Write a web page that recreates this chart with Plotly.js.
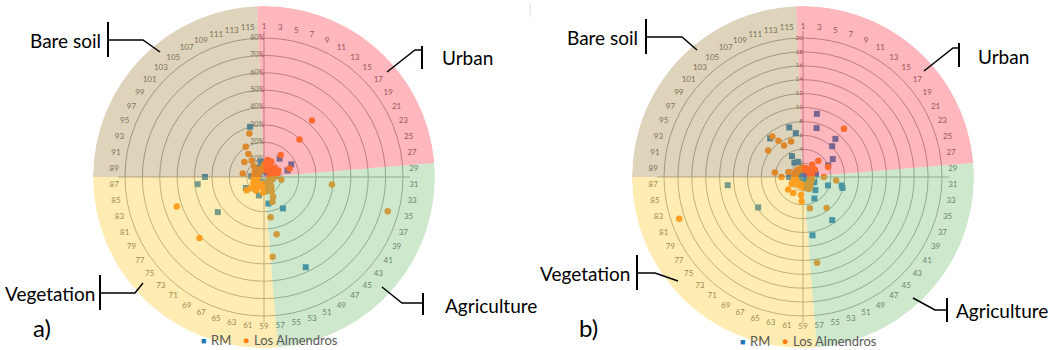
<!DOCTYPE html>
<html>
<head>
<meta charset="utf-8">
<script src="https://cdn.plot.ly/plotly-3.0.1.min.js"></script>
<style>
html,body{margin:0;padding:0;background:#ffffff;}
#chart{width:1052px;height:350px;}
</style>
</head>
<body>
<div id="chart"></div>
<script>
// ---------------- DATA ----------------
const N_CAT = 116;
const CATEGORIES = Array.from({length: N_CAT}, (_, i) => i + 1);

const ANGULAR_LABELS = ['1','3','5','7','9','11','13','15','17','19','21','23','25','27','29',
  '31','33','35','37','39','41','43','45','47','49','51','53','55','57','59','61','63','65','67',
  '69','71','73','75','77','79','81','83','85','87','89','91','93','95','97','99','101','103',
  '105','107','109','111','113','115'];

const RADIAL_TICKS_A = [10, 20, 30, 40, 50, 60, 70, 80];
const RADIAL_TEXT_A = ['10%','20%','30%','40%','50%','60%','70%','80%'];
const RADIAL_TICKS_B = [2, 4, 6, 8, 10, 12, 14, 16, 18, 20];
const RADIAL_TEXT_B = ['2','4','6','8','10','12','14','16','18','20'];

const SECTOR_NAMES = ['Urban', 'Agriculture', 'Vegetation', 'Bare soil'];
const SECTOR_FROM = [0.25, 28.5, 57.5, 88];     // category boundaries
const SECTOR_TO   = [28.5, 57.5, 88, 116.25];

const SERIES_NAMES = ['RM', 'Los Almendros'];

// chart a) values in %, one per category (null = no mark)
const RM_A = [
  null, null, 4.0, null, null, null, null, 5.5, null, null,
  3.0, null, null, 13.9, null, null, 6.0, null, null, 4.5,
  null, 17.3, null, null, 14.0, null, 6.0, 7.0, null, 3.0,
  null, null, 5.0, null, null, null, null, 3.5, null, null,
  null, 4.0, null, null, null, null, null, 5.6, 21.1, null,
  57.2, null, 6.5, null, null, 15.5, null, null, null, 4.0,
  null, null, null, 11.0, 5.8, null, null, 3.0, null, null,
  null, null, 9.1, null, null, 33.4, null, 12.2, null, null,
  null, 4.5, null, null, null, 38.4, null, 34.0, 7.3, null,
  null, null, null, null, 3.0, null, null, null, null, 4.0,
  null, null, null, 5.3, null, null, null, 6.0, null, null,
  null, 30.0, 9.1, null, null, 3.5
];
const LA_A = [
  6.9, 7.5, 5.0, 8.8, 10.0, 6.5, 4.0, 5.5, 9.8, 7.5,
  4.5, 6.5, 15.9, 42.6, 29.7, 6.0, 8.0, 4.5, 6.5, 7.0,
  5.0, 9.0, 6.0, 15.5, 8.0, 5.0, 7.0, 3.5, 4.0, 6.0,
  3.5, 39.3, 10.1, 5.0, 73.9, 4.5, null, 3.0, null, 4.0,
  null, 3.5, null, 5.0, null, 4.0, 7.0, 6.0, null, 9.5,
  12.5, null, 15.1, 8.0, 33.8, 23.5, 46.1, 5.0, null, 9.0,
  null, 5.5, null, 4.0, null, 6.0, null, null, 9.0, null,
  5.0, null, 6.4, 51.1, 9.8, 12.5, null, 7.0, null, 5.0,
  null, 53.0, null, 6.0, null, 4.0, null, 4.0, null, 6.0,
  12.4, null, 5.0, null, 3.5, null, 6.0, null, null, 14.2,
  null, null, 8.3, null, 11.7, 16.0, 20.4, null, 5.0, null,
  26.4, null, 4.0, null, 5.5, null
];

// chart b) values, one per category
const RM_B = [
  0.5, null, null, null, 9.3, 7.3, null, null, null, 0.4,
  null, null, null, 7.2, 6.1, null, null, null, null, 5.0,
  null, 4.0, null, null, null, 1.9, null, null, null, null,
  null, null, null, 5.7, 5.9, 3.8, null, 1.8, null, 0.6,
  null, null, null, null, 2.6, null, null, 7.5, null, 3.5,
  null, null, null, null, null, 8.5, null, null, null, null,
  null, null, null, null, 0.5, null, null, null, null, null,
  null, null, null, null, null, 1.5, 7.8, null, null, null,
  null, null, null, null, null, 10.9, null, 2.0, null, null,
  null, null, null, null, null, null, null, 0.6, null, null,
  null, null, null, 7.3, null, null, 2.4, 3.4, null, null,
  2.3, 7.4, null, 6.4, null, null
];
const LA_B = [
  1.2, 1.3, 1.1, 1.2, 1.3, 1.1, 1.2, 1.3, 1.2, 1.1,
  1.3, 1.2, 2.2, 9.1, 3.2, 1.2, 1.3, 1.1, 1.2, 2.0,
  1.3, 1.2, 3.9, 1.2, 1.3, 1.1, 1.2, 1.3, 1.2, 3.0,
  1.1, 4.8, 1.2, 1.3, 1.2, 1.1, 1.2, 1.3, 1.2, 1.1,
  1.2, 1.3, 1.2, 1.4, 1.2, 1.6, 5.6, 1.8, 1.5, 1.7,
  1.9, 1.3, 1.2, 1.4, 4.6, 12.5, 1.2, 1.5, 1.2, 3.5,
  2.6, 1.2, 1.3, 1.1, 1.2, 1.3, 1.2, 1.1, 2.7, 1.2,
  1.3, 1.2, 1.1, 1.2, 2.8, 1.3, 1.2, 1.9, 1.2, 1.1,
  1.3, 18.8, 1.2, 1.1, 1.2, 1.3, 1.2, 3.1, 1.2, 1.1,
  4.1, 1.2, 1.3, 2.2, 1.2, 1.1, 1.2, 1.3, 1.2, 6.3,
  1.2, 1.1, 1.2, 1.3, 7.3, 6.3, 5.3, 1.2, 1.1, 1.2,
  5.4, 1.3, 1.2, 1.1, 1.2, 1.3
];

// ---------------- STYLE / LAYOUT ----------------
const W = 1052, H = 350;
const FONT = 'Lato, "Open Sans", sans-serif';
const RM_COLOR = '#1f77b4';
const LA_COLOR = '#ff7f0e';
const SECTOR_COLORS = ['rgba(255,75,93,0.4)', 'rgba(132,197,132,0.4)',
                       'rgba(255,207,65,0.4)', 'rgba(172,147,88,0.4)'];
const GRID = '#9a9a9a';
const TXT = '#595959';

const PIE_PX = 171, GRID_PX = 139, LABEL_PX = 150, CROSS_PX = 146;
const deg = c => (c - 1) * 360 / N_CAT;
const THETA = CATEGORIES.map(deg);

function dom(cx, cy) {
  return {x: [(cx - PIE_PX) / W, (cx + PIE_PX) / W],
          y: [(H - cy - PIE_PX) / H, (H - cy + PIE_PX) / H]};
}

function build(sub, over, rm, la, maxTick, ticks, tickText, tickSize) {
  const rMax = maxTick * PIE_PX / GRID_PX;
  const u = px => px * maxTick / GRID_PX;
  const traces = [];
  const cr = u(CROSS_PX);
  traces.push({type: 'scatterpolar', subplot: sub, mode: 'lines',
    r: [0, cr, null, 0, cr, null, 0, cr, null, 0, cr],
    theta: [0, 0, null, 90, 90, null, 180, 180, null, 270, 270],
    line: {color: GRID, width: 1}, hoverinfo: 'skip', showlegend: false});
  // radial tick labels, drawn left of the vertical axis line
  traces.push({type: 'scatterpolar', subplot: sub, mode: 'text',
    r: ticks, theta: ticks.map(() => 0), text: tickText,
    textposition: 'middle left',
    textfont: {family: FONT, size: tickSize, color: TXT},
    hoverinfo: 'skip', showlegend: false});
  // angular category labels
  traces.push({type: 'scatterpolar', subplot: sub, mode: 'text',
    r: ANGULAR_LABELS.map(() => u(LABEL_PX)),
    theta: ANGULAR_LABELS.map(s => deg(+s)),
    text: ANGULAR_LABELS,
    textfont: {family: FONT, size: 8, color: TXT},
    hoverinfo: 'skip', showlegend: false});
  traces.push({type: 'scatterpolar', subplot: sub, mode: 'markers', name: SERIES_NAMES[0],
    r: rm, theta: THETA, marker: {symbol: 'square', size: 6, color: RM_COLOR},
    showlegend: false});
  traces.push({type: 'scatterpolar', subplot: sub, mode: 'markers', name: SERIES_NAMES[1],
    r: la, theta: THETA, marker: {symbol: 'circle', size: 6.5, color: LA_COLOR},
    showlegend: false});
  traces.push({type: 'barpolar', subplot: over,
    r: SECTOR_NAMES.map(() => rMax),
    theta: SECTOR_NAMES.map((_, i) => (deg(SECTOR_FROM[i]) + deg(SECTOR_TO[i])) / 2),
    width: SECTOR_NAMES.map((_, i) => deg(SECTOR_TO[i]) - deg(SECTOR_FROM[i])),
    text: SECTOR_NAMES,
    marker: {color: SECTOR_COLORS, line: {width: 0}},
    hoverinfo: 'text', showlegend: false});
  const polar = {
    bgcolor: 'rgba(0,0,0,0)',
    angularaxis: {rotation: 90, direction: 'clockwise', thetaunit: 'degrees',
      showticklabels: false, ticks: '', showgrid: false, showline: false},
    radialaxis: {range: [0, rMax], tickvals: ticks, showticklabels: false,
      showline: false, ticks: '', gridcolor: GRID, gridwidth: 1, angle: 90}
  };
  const overlay = {
    bgcolor: 'rgba(0,0,0,0)',
    angularaxis: {rotation: 90, direction: 'clockwise', thetaunit: 'degrees', visible: false},
    radialaxis: {range: [0, rMax], visible: false}
  };
  return {traces, polar, overlay};
}

const A = build('polar', 'polar3', RM_A, LA_A, 80, RADIAL_TICKS_A, RADIAL_TEXT_A, 7);
const B = build('polar2', 'polar4', RM_B, LA_B, 20, RADIAL_TICKS_B, RADIAL_TEXT_B, 6.5);

const domA = dom(264, 177), domB = dom(803, 177);

const fx = x => x / W, fy = y => 1 - y / H;
const shapes = [];
function seg(pts, w) {
  let p = 'M ' + fx(pts[0][0]) + ' ' + fy(pts[0][1]);
  for (let i = 1; i < pts.length; i++) p += ' L ' + fx(pts[i][0]) + ' ' + fy(pts[i][1]);
  shapes.push({type: 'path', xref: 'paper', yref: 'paper', path: p,
    line: {color: '#000000', width: w}});
}
// callout brackets
const CALLOUTS = [
  {bar: [[108, 22], [108, 57]], path: [[108, 40], [143, 40], [160, 52]]},
  {bar: [[100, 275], [100, 310]], path: [[100, 293], [135, 293], [143, 283]]},
  {bar: [[422, 46], [422, 69]], path: [[422, 50], [415, 50], [387, 72]]},
  {bar: [[423, 293], [423, 315]], path: [[423, 303], [402, 303], [382, 287]]},
  {bar: [[646, 19], [646, 54]], path: [[646, 37], [682, 37], [697, 50]]},
  {bar: [[637, 255], [637, 290]], path: [[637, 273], [655, 273], [678, 281]]},
  {bar: [[959, 43], [959, 67]], path: [[959, 48], [953, 48], [924, 71]]},
  {bar: [[947, 298], [947, 322]], path: [[947, 310], [935, 310], [913, 298]]}
];
CALLOUTS.forEach(c => { seg(c.bar, 2); seg(c.path, 1.5); });
shapes.push({type: 'line', xref: 'paper', yref: 'paper', x0: fx(530), x1: fx(530),
  y0: fy(3), y1: fy(17), line: {color: '#dddddd', width: 1}});

const annotations = [];
function txt(t, x, y, anchor, size, color) {
  annotations.push({text: t, xref: 'paper', yref: 'paper', x: fx(x), y: fy(y),
    xanchor: anchor, yanchor: 'middle', showarrow: false,
    font: {family: FONT, size: size, color: color || '#000000'}});
}
txt(SECTOR_NAMES[3], 103, 41, 'right', 19);
txt(SECTOR_NAMES[2], 97, 293, 'right', 19);
txt(SECTOR_NAMES[0], 440, 58, 'left', 19);
txt(SECTOR_NAMES[1], 443, 305, 'left', 19);
txt(SECTOR_NAMES[3], 640, 38, 'right', 19);
txt(SECTOR_NAMES[2], 632, 273, 'right', 19);
txt(SECTOR_NAMES[0], 976, 56, 'left', 19);
txt(SECTOR_NAMES[1], 954, 310, 'left', 19);
txt('a)', 31, 327, 'left', 24);
txt('b)', 577, 327, 'left', 24);
// legends
function legend(x0, y) {
  txt('<span style="color:' + RM_COLOR + '">■</span>', x0, y, 'center', 9);
  txt(SERIES_NAMES[0], x0 + 6, y, 'left', 13, TXT);
  txt('<span style="color:' + LA_COLOR + '">●</span>', x0 + 43, y, 'center', 10);
  txt(SERIES_NAMES[1], x0 + 49, y, 'left', 13, TXT);
}
legend(203, 340);
legend(742, 341);

const layout = {
  width: W, height: H,
  margin: {l: 0, r: 0, t: 0, b: 0},
  paper_bgcolor: '#ffffff',
  showlegend: false,
  font: {family: FONT},
  polar: Object.assign({domain: domA}, A.polar),
  polar2: Object.assign({domain: domB}, B.polar),
  polar3: Object.assign({domain: domA}, A.overlay),
  polar4: Object.assign({domain: domB}, B.overlay),
  shapes: shapes,
  annotations: annotations
};

Plotly.newPlot('chart', A.traces.concat(B.traces), layout, {displayModeBar: false, staticPlot: true});
</script>
</body>
</html>
